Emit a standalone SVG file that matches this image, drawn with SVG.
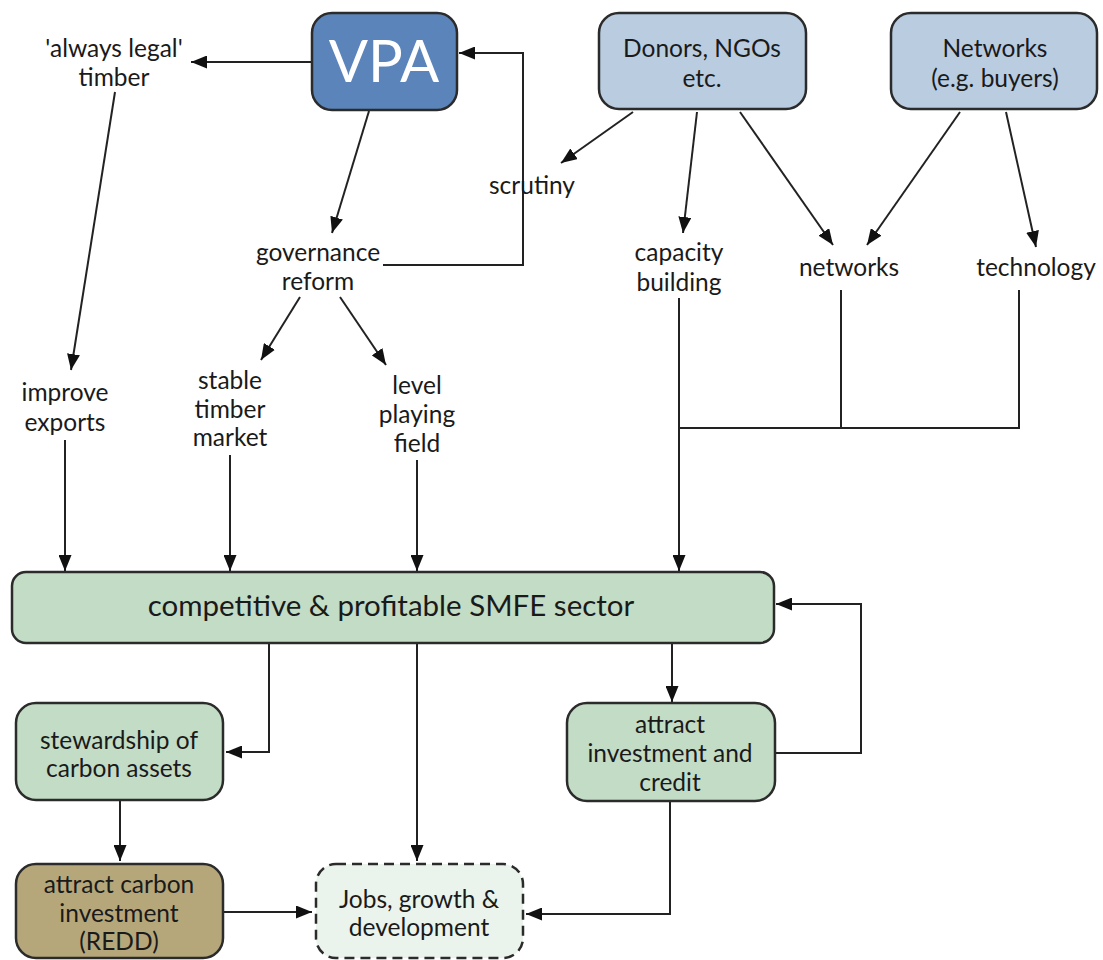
<svg xmlns="http://www.w3.org/2000/svg" width="1103" height="960" viewBox="0 0 1103 960">
<style>
.t{font-family:Lato,"Open Sans","Liberation Sans",sans-serif;font-size:24.5px;fill:#1a1a1a;text-anchor:middle}
.box{stroke:#2b2b2b;stroke-width:2.5}
.c{fill:none;stroke:#222;stroke-width:2}
</style>
<defs>
<marker id="a" markerUnits="userSpaceOnUse" markerWidth="16" markerHeight="13" refX="16" refY="6.5" orient="auto">
<path d="M0,0 L16,6.5 L0,13 z" fill="#111"/>
</marker>
</defs>
<rect width="1103" height="960" fill="#fff"/>

<g id="connectors">
<path class="c" d="M312,62 H191" marker-end="url(#a)"/>
<path class="c" d="M369,111 L332,233" marker-end="url(#a)"/>
<path class="c" d="M383,265 H523 V53 H459" marker-end="url(#a)"/>
<path class="c" d="M633,112 L561,163" marker-end="url(#a)"/>
<path class="c" d="M697,112 L683,233" marker-end="url(#a)"/>
<path class="c" d="M740,112 L833,245" marker-end="url(#a)"/>
<path class="c" d="M960,112 L867,245" marker-end="url(#a)"/>
<path class="c" d="M1006,112 L1036,247" marker-end="url(#a)"/>
<path class="c" d="M115,92 L71,370" marker-end="url(#a)"/>
<path class="c" d="M300,297 L261,360" marker-end="url(#a)"/>
<path class="c" d="M340,297 L386,365" marker-end="url(#a)"/>
<path class="c" d="M65,440 V571" marker-end="url(#a)"/>
<path class="c" d="M230,455 V571" marker-end="url(#a)"/>
<path class="c" d="M417,460 V571" marker-end="url(#a)"/>
<path class="c" d="M841,290 V428 M1019,290 V428 H679"/>
<path class="c" d="M679,298 V571" marker-end="url(#a)"/>
<path class="c" d="M269,644 V752 H226" marker-end="url(#a)"/>
<path class="c" d="M417,644 V861" marker-end="url(#a)"/>
<path class="c" d="M672,644 V702" marker-end="url(#a)"/>
<path class="c" d="M775,753 H861 V604 H776" marker-end="url(#a)"/>
<path class="c" d="M670,801 V914 H526" marker-end="url(#a)"/>
<path class="c" d="M120,801 V861" marker-end="url(#a)"/>
<path class="c" d="M223,912 H312" marker-end="url(#a)"/>
</g>

<g id="vpa">
<rect class="box" x="312" y="13" width="145" height="97" rx="20" fill="#5a84ba"/>
<text x="384" y="82" style="font-family:Lato,'Open Sans','Liberation Sans',sans-serif;font-size:58px;fill:#fff;text-anchor:middle">VPA</text>
</g>
<g id="donors">
<rect class="box" x="599" y="13" width="207" height="96" rx="20" fill="#b9cce0"/>
<text class="t" x="702" y="57">Donors, NGOs</text>
<text class="t" x="702" y="87">etc.</text>
</g>
<g id="networksBox">
<rect class="box" x="891" y="13" width="206" height="96" rx="20" fill="#b9cce0"/>
<text class="t" x="995" y="57">Networks</text>
<text class="t" x="995" y="87">(e.g. buyers)</text>
</g>
<g id="legal">
<text class="t" x="114" y="57">'always legal'</text>
<text class="t" x="114" y="86">timber</text>
</g>
<g id="governance">
<text class="t" x="318" y="261">governance</text>
<text class="t" x="318" y="290">reform</text>
</g>
<g id="scrutiny"><text class="t" x="532" y="194">scrutiny</text></g>
<g id="capacity">
<text class="t" x="679" y="261">capacity</text>
<text class="t" x="679" y="291">building</text>
</g>
<g id="networks"><text class="t" x="849" y="276">networks</text></g>
<g id="technology"><text class="t" x="1036" y="276">technology</text></g>
<g id="exports">
<text class="t" x="65" y="401">improve</text>
<text class="t" x="65" y="431">exports</text>
</g>
<g id="stable">
<text class="t" x="230" y="389">stable</text>
<text class="t" x="230" y="418">timber</text>
<text class="t" x="230" y="446">market</text>
</g>
<g id="level">
<text class="t" x="417" y="394">level</text>
<text class="t" x="417" y="423">playing</text>
<text class="t" x="417" y="452">field</text>
</g>
<g id="smfe">
<rect class="box" x="12" y="572" width="762" height="71" rx="14" fill="#c3dcc5"/>
<text class="t" x="391" y="616" style="font-size:29.5px">competitive &amp; profitable SMFE sector</text>
</g>
<g id="stewardship">
<rect class="box" x="16" y="703" width="207" height="97" rx="20" fill="#c3dcc5"/>
<text class="t" x="119" y="749">stewardship of</text>
<text class="t" x="119" y="777">carbon assets</text>
</g>
<g id="attractInvestment">
<rect class="box" x="567" y="703" width="208" height="98" rx="20" fill="#c3dcc5"/>
<text class="t" x="670" y="733">attract</text>
<text class="t" x="670" y="762">investment and</text>
<text class="t" x="670" y="791">credit</text>
</g>
<g id="carbon">
<rect class="box" x="16" y="864" width="207" height="94" rx="20" fill="#b5a77a"/>
<text class="t" x="119" y="893">attract carbon</text>
<text class="t" x="119" y="922">investment</text>
<text class="t" x="119" y="950">(REDD)</text>
</g>
<g id="jobs">
<rect class="box" x="316" y="864" width="207" height="94" rx="20" fill="#eaf4ec" stroke-dasharray="10,6"/>
<text class="t" x="419" y="908">Jobs, growth &amp;</text>
<text class="t" x="419" y="936">development</text>
</g>
</svg>
